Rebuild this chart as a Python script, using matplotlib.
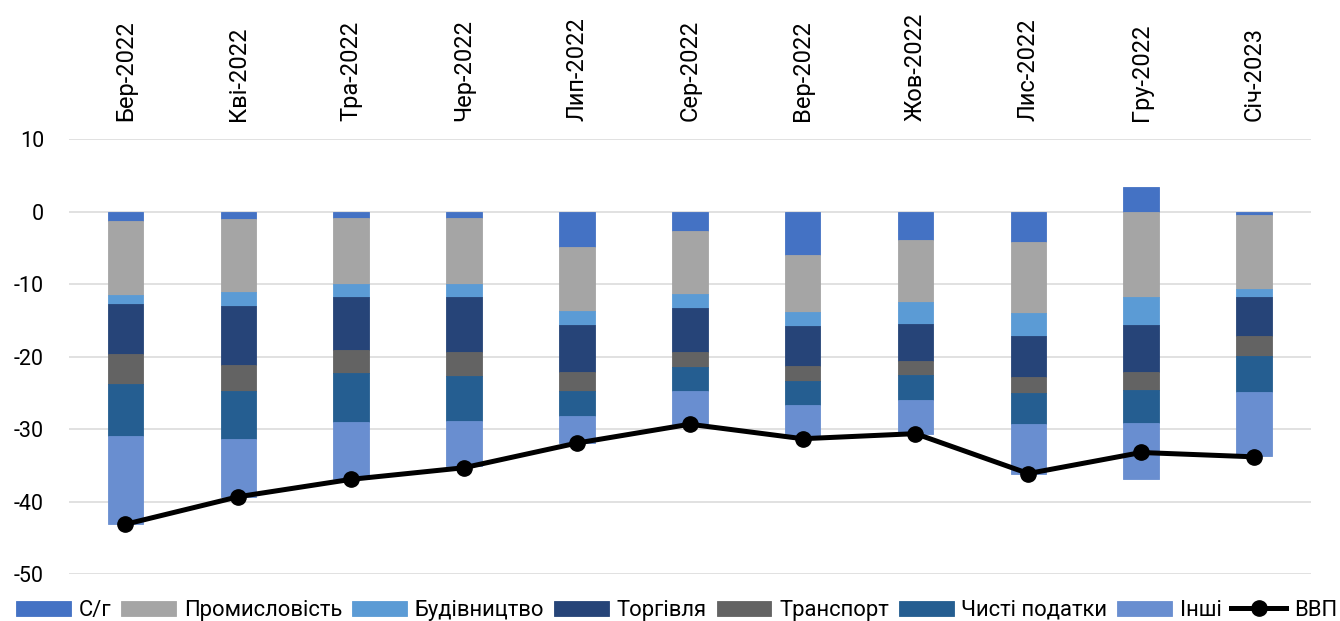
import matplotlib
matplotlib.use("Agg")
import matplotlib.pyplot as plt
import numpy as np

plt.rcParams['font.family'] = ['Roboto', 'DejaVu Sans']
plt.rcParams['axes.unicode_minus'] = False

categories = ["Бер-2022", "Кві-2022", "Тра-2022", "Чер-2022", "Лип-2022", "Сер-2022",
              "Вер-2022", "Жов-2022", "Лис-2022", "Гру-2022", "Січ-2023"]

sg        = [-1.3, -1.0, -0.8, -0.9, -4.9, -2.7, -5.9, -3.9, -4.1, 3.4, -0.4]
industry  = [-10.2, -10.1, -9.1, -9.1, -8.8, -8.6, -7.9, -8.5, -9.8, -11.8, -10.2]
construct = [-1.2, -1.9, -1.8, -1.8, -1.9, -2.0, -1.9, -3.1, -3.2, -3.8, -1.1]
trade     = [-6.9, -8.1, -7.4, -7.5, -6.5, -6.0, -5.6, -5.1, -5.7, -6.5, -5.5]
transport = [-4.1, -3.6, -3.2, -3.3, -2.6, -2.1, -2.1, -1.9, -2.2, -2.5, -2.7]
net_taxes = [-7.2, -6.6, -6.7, -6.3, -3.4, -3.3, -3.3, -3.4, -4.3, -4.6, -5.0]
other     = [-12.2, -8.0, -7.9, -6.2, -3.8, -4.6, -4.3, -4.7, -6.8, -7.6, -8.8]
gdp       = [-43.1, -39.3, -36.9, -35.3, -31.9, -29.3, -31.3, -30.6, -36.1, -33.2, -33.8]

series_names = ["С/г", "Промисловість", "Будівництво", "Торгівля", "Транспорт",
                "Чисті податки", "Інші"]
series_vals = [sg, industry, construct, trade, transport, net_taxes, other]
colors = ["#4472C4", "#A5A5A5", "#5B9BD5", "#264478", "#636363", "#255E91", "#698ED0"]
gdp_name = "ВВП"

fig = plt.figure(figsize=(13.4, 6.21), dpi=100)
ax = fig.add_axes([0.0515, 0.0752, 0.9265, 0.7005])

x = np.arange(len(categories))
pos_base = np.zeros(len(categories))
neg_base = np.zeros(len(categories))
handles = []
for name, vals, col in zip(series_names, series_vals, colors):
    v = np.array(vals, dtype=float)
    bottom = np.where(v >= 0, pos_base, neg_base)
    b = ax.bar(x, v, width=0.315, bottom=bottom, color=col, label=name,
               edgecolor=col, linewidth=0.6, zorder=2)
    pos_base = pos_base + np.where(v >= 0, v, 0)
    neg_base = neg_base + np.where(v < 0, v, 0)
    handles.append(b)

ln, = ax.plot(x, gdp, color="black", linewidth=3.6, marker="o", markersize=11,
              label=gdp_name, zorder=3)
handles.append(ln)

ax.set_xlim(-0.5, len(categories) - 0.5)
ax.set_ylim(-50, 10)
ax.set_yticks(np.arange(-50, 11, 10))
ax.yaxis.grid(True, color="#D9D9D9", linewidth=1.1, zorder=0)
ax.set_axisbelow(True)
for s in ax.spines.values():
    s.set_visible(False)

ax.xaxis.tick_top()
ax.set_xticks(x)
ax.set_xticklabels(categories, rotation=90, fontsize=17)
ax.tick_params(axis='x', length=0, pad=13)
ax.tick_params(axis='y', length=0, pad=18, labelsize=15.5)

fig.legend(handles=handles, labels=series_names + [gdp_name], loc="lower center",
           bbox_to_anchor=(0.505, -0.014), ncol=8, frameon=False, fontsize=15.8,
           handlelength=2.5, handleheight=0.65, handletextpad=0.35,
           columnspacing=0.45, borderaxespad=0.0)

fig.savefig("out.png", dpi=100)
